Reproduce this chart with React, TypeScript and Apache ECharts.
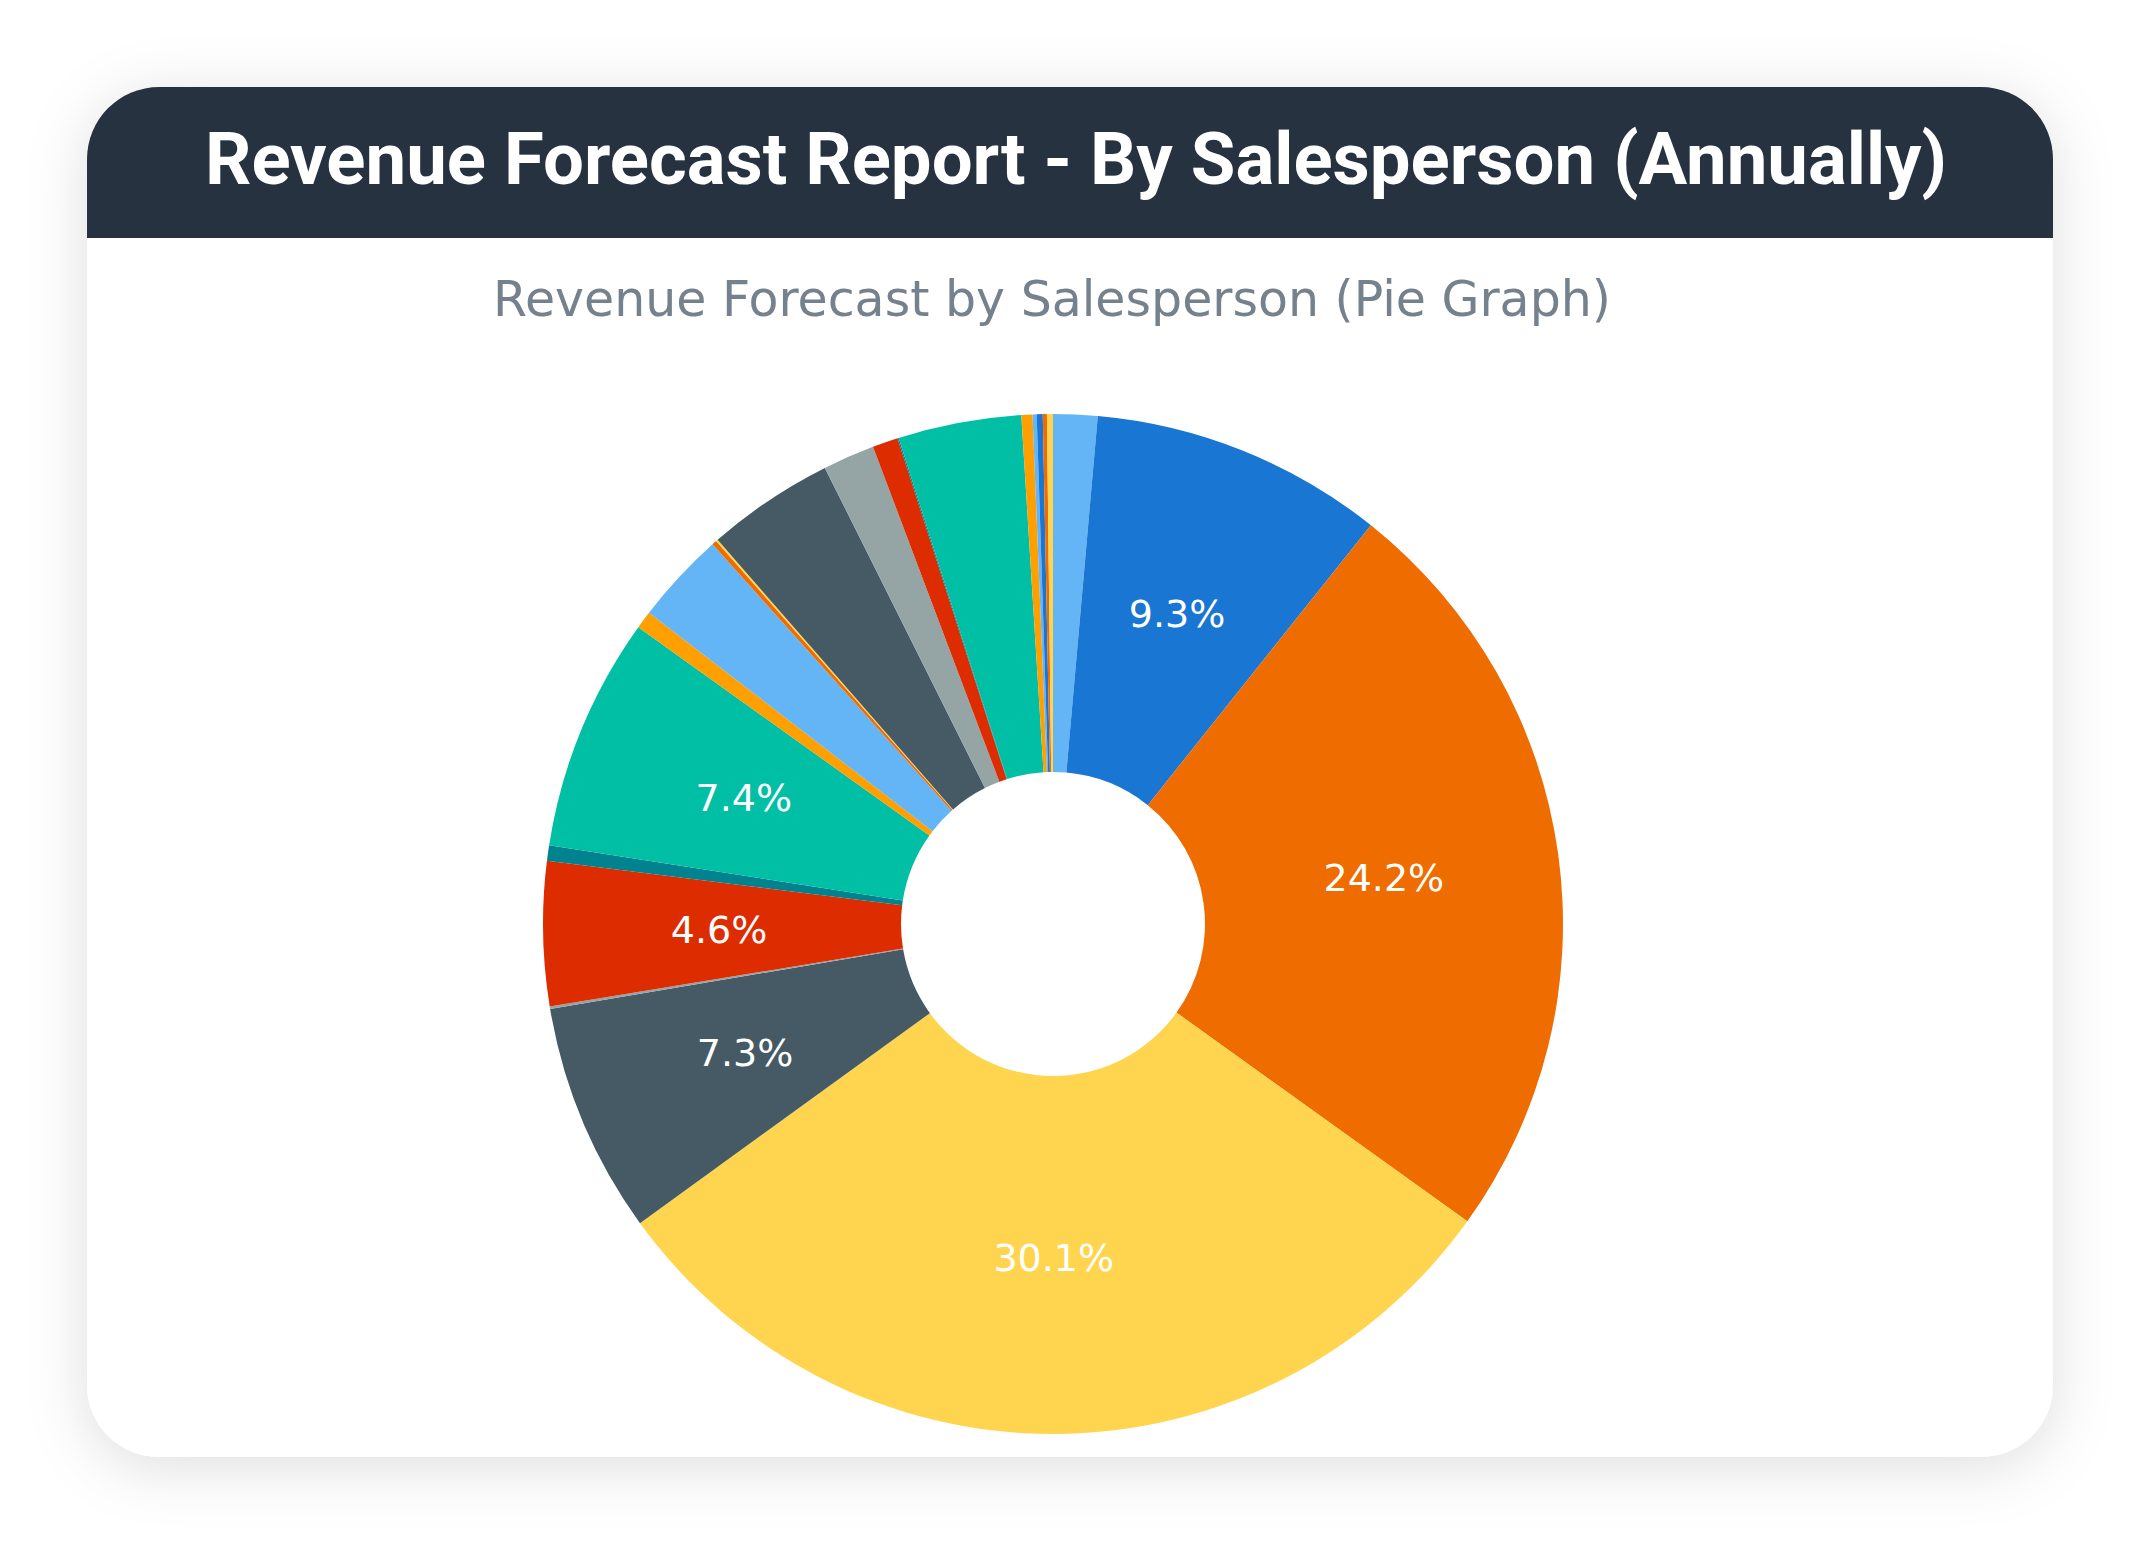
import React, { useEffect, useRef } from "react";
import * as echarts from "echarts";

const pageTitle = "Revenue Forecast Report - By Salesperson (Annually)";
const chartTitle = "Revenue Forecast by Salesperson (Pie Graph)";

// slices listed clockwise from 12 o'clock
const salespeople = [
  "Salesperson 1", "Salesperson 2", "Salesperson 3", "Salesperson 4", "Salesperson 5",
  "Salesperson 6", "Salesperson 7", "Salesperson 8", "Salesperson 9", "Salesperson 10",
  "Salesperson 11", "Salesperson 12", "Salesperson 13", "Salesperson 14", "Salesperson 15",
  "Salesperson 16", "Salesperson 17", "Salesperson 18", "Salesperson 19", "Salesperson 20",
  "Salesperson 21", "Salesperson 22", "Salesperson 23",
];
const revenue = [
  1.4, 9.31, 24.19, 30.11, 7.31,
  0.08, 4.56, 0.49, 7.42, 0.56,
  2.92, 0.15, 0.06, 4.04, 1.64,
  0.81, 0.04, 3.9, 0.35, 0.13,
  0.19, 0.13, 0.19,
];
const sliceColors = [
  "#64b5f6", "#1976d2", "#ef6c00", "#ffd54f", "#455a64",
  "#95a5a6", "#dd2c00", "#00838f", "#00bfa5", "#ffa000",
  "#64b5f6", "#ef6c00", "#ffd54f", "#455a64", "#95a5a6",
  "#dd2c00", "#00838f", "#00bfa5", "#ffa000", "#64b5f6",
  "#1976d2", "#ef6c00", "#ffd54f",
];
const showPercent = [
  false, true, true, true, true,
  false, true, false, true, false,
  false, false, false, false, false,
  false, false, false, false, false,
  false, false, false,
];

export default function App() {
  const ref = useRef<HTMLDivElement>(null);
  useEffect(() => {
    document.body.style.margin = "0";
    const chart = echarts.init(ref.current!, undefined, { renderer: "svg" });
    const data = salespeople.map((name, i) => ({
      name,
      value: revenue[i],
      itemStyle: { color: sliceColors[i] },
      label: { show: showPercent[i] },
    }));
    chart.setOption({
      animation: false,
      backgroundColor: "#ffffff",
      graphic: [
        {
          type: "rect",
          z: 0,
          shape: { x: 87, y: 87, width: 1966, height: 1370, r: 72 },
          style: {
            fill: "#ffffff",
            shadowBlur: 60,
            shadowColor: "rgba(0,0,0,0.13)",
            shadowOffsetY: 10,
          },
        },
        {
          type: "rect",
          z: 1,
          shape: { x: 87, y: 87, width: 1966, height: 151, r: [72, 72, 0, 0] },
          style: { fill: "#263240" },
        },
        {
          type: "text",
          z: 2,
          x: 1076,
          y: 159,
          style: {
            text: pageTitle,
            fill: "#ffffff",
            font: "bold 72.5px Roboto",
            align: "center",
            verticalAlign: "middle",
          },
        },
        {
          type: "text",
          z: 2,
          x: 1052,
          y: 299,
          style: {
            text: chartTitle,
            fill: "#75818c",
            font: "49px 'DejaVu Sans'",
            align: "center",
            verticalAlign: "middle",
          },
        },
      ],
      series: [
        {
          type: "pie",
          center: [1053, 924],
          radius: [152, 510],
          startAngle: 90,
          clockwise: true,
          avoidLabelOverlap: false,
          minAngle: 0,
          label: {
            position: "inside",
            color: "#ffffff",
            fontSize: 38,
            fontFamily: "DejaVu Sans",
            padding: [8, 0, 0, 0],
            formatter: (p: any) => p.percent.toFixed(1) + "%",
          },
          labelLine: { show: false },
          itemStyle: { borderWidth: 0 },
          emphasis: { disabled: true },
          data,
        },
      ],
    });
    return () => chart.dispose();
  }, []);
  return (
    <div
      ref={ref}
      style={{ position: "absolute", left: 0, top: 0, width: 2141, height: 1546 }}
    />
  );
}
